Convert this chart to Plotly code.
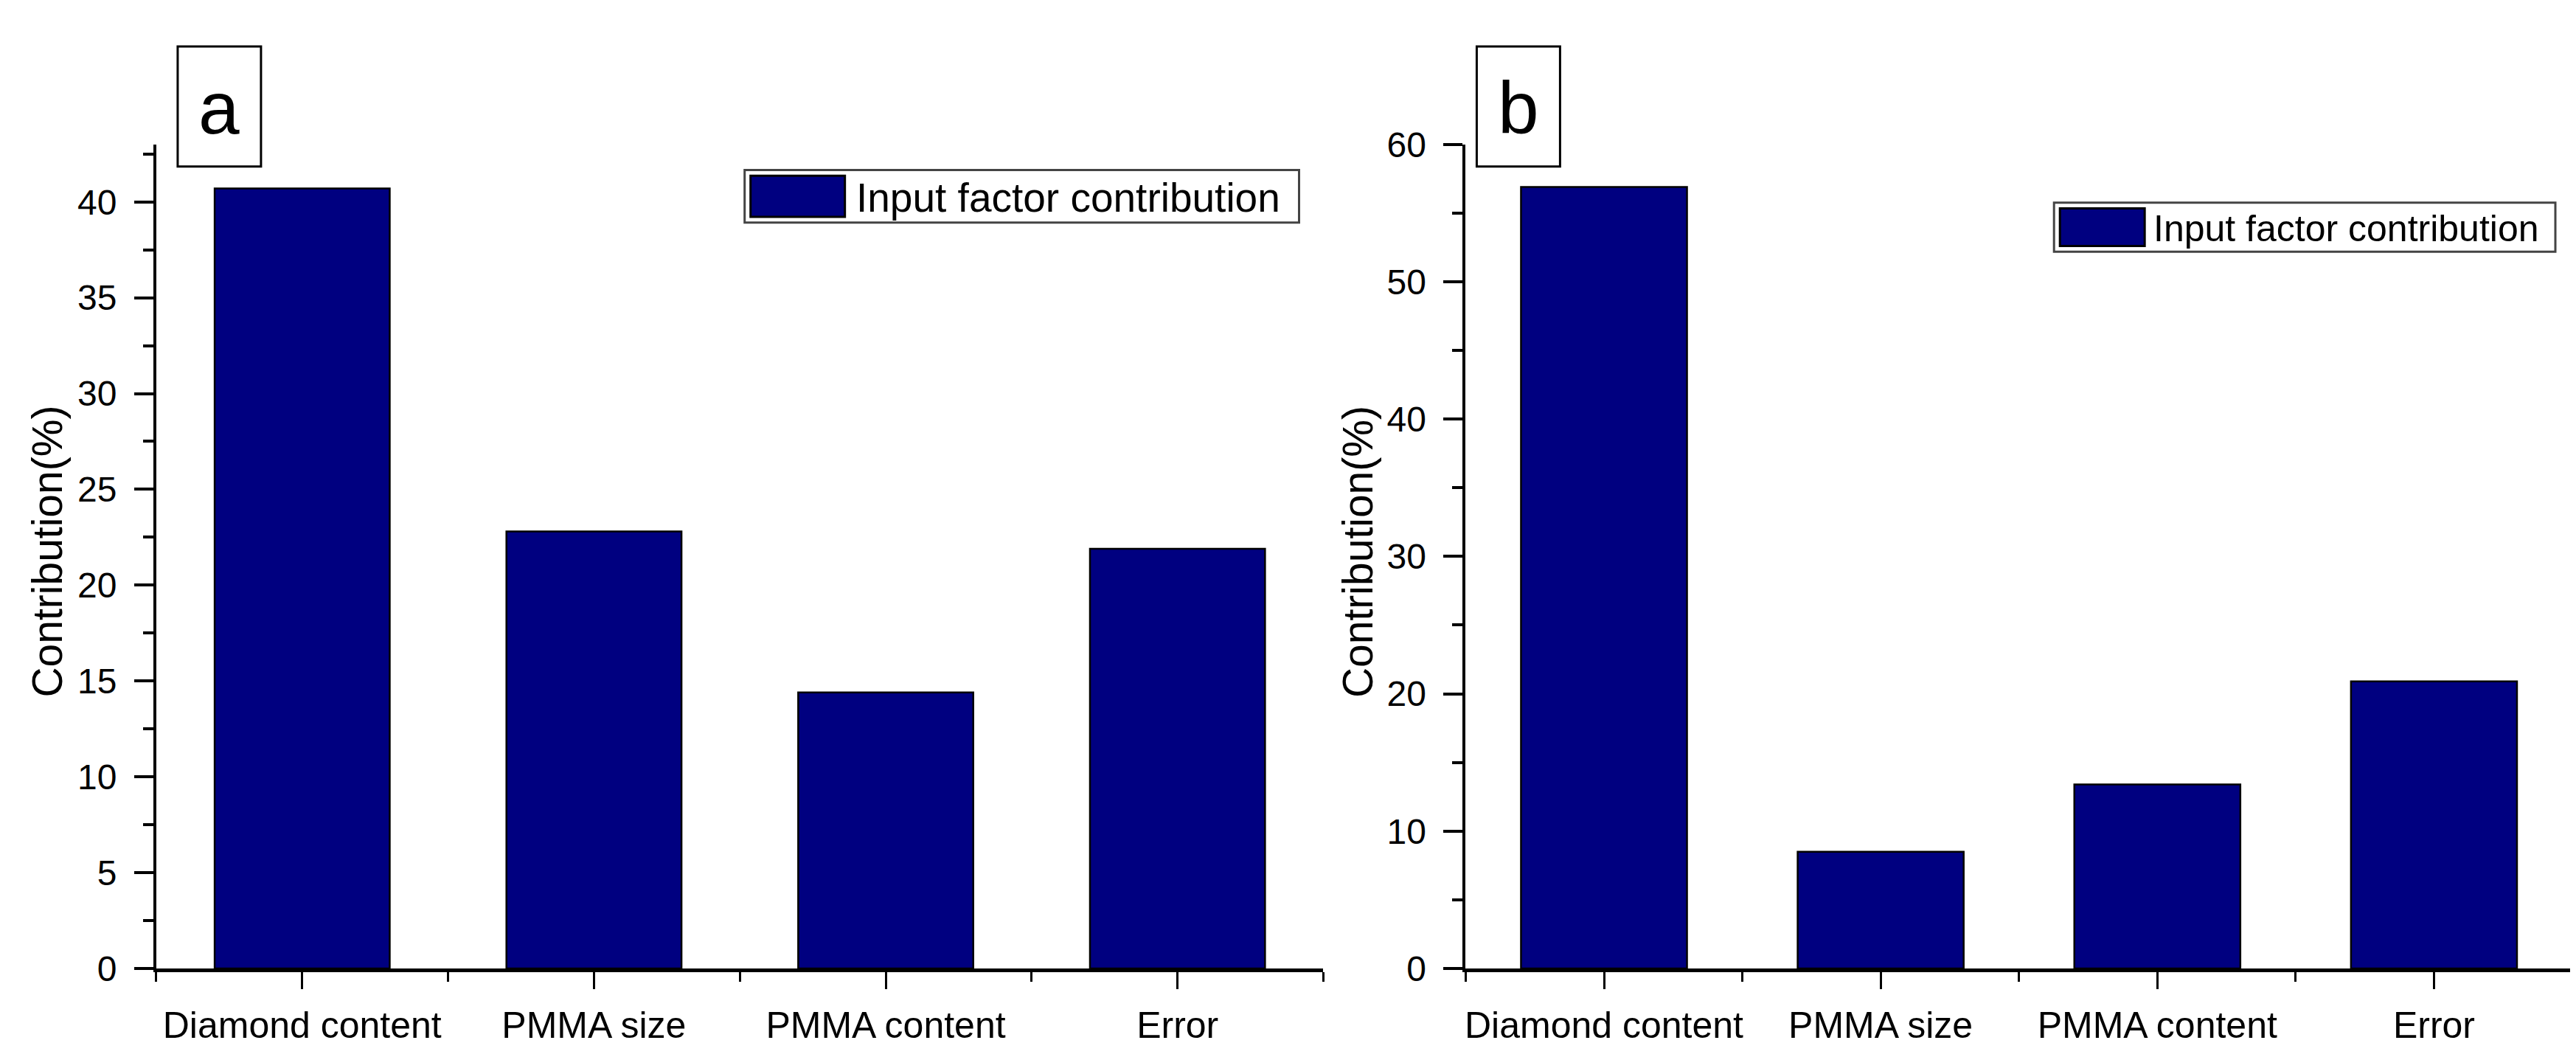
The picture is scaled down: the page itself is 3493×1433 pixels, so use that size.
import plotly.graph_objects as go

categories = ["Diamond content", "PMMA size", "PMMA content", "Error"]
values_a = [40.7, 22.8, 14.4, 21.9]
values_b = [56.9, 8.5, 13.4, 20.9]
series_name = "Input factor contribution"
y_title = "Contribution(%)"
panel_labels = ["a", "b"]

W, H = 3493, 1433
NAVY = "#000080"
FONT = "Liberation Sans, Arial, sans-serif"

def px(x):
    return x / W

def py(y):
    return 1 - y / H

fig = go.Figure()
pos = list(range(len(categories)))
for vals, xa, ya in [(values_a, "x", "y"), (values_b, "x2", "y2")]:
    fig.add_trace(go.Bar(x=pos, y=vals, width=0.6,
                         marker=dict(color=NAVY, line=dict(color="black", width=2.5)),
                         xaxis=xa, yaxis=ya, showlegend=False, name=series_name))

y0, y1 = py(1328), py(168)

def xaxis_cfg(dom, anchor):
    return dict(domain=dom, anchor=anchor, range=[-0.5, len(categories) - 0.5],
                tickmode="array", tickvals=pos, ticktext=categories,
                ticks="outside", ticklen=23, tickwidth=3, tickcolor="black",
                showline=True, linecolor="black", linewidth=5, showgrid=False, zeroline=False,
                minor=dict(ticks="outside", tickmode="linear", tick0=-0.5, dtick=1, ticklen=13,
                           tickwidth=3, tickcolor="black"),
                tickfont=dict(family=FONT, size=50, color="black"), ticklabelstandoff=6)

def yaxis_cfg(dom, anchor, rng, dtick):
    return dict(domain=dom, anchor=anchor, range=rng, dtick=dtick, tick0=0,
                ticks="outside", ticklen=26, tickwidth=4, tickcolor="black",
                showline=True, linecolor="black", linewidth=4, showgrid=False, zeroline=False,
                minor=dict(ticks="outside", dtick=dtick / 2, ticklen=14, tickwidth=4, tickcolor="black"),
                tickfont=dict(family=FONT, size=48, color="black"), ticklabelstandoff=14)

fig.update_layout(
    width=W, height=H, autosize=False,
    margin=dict(l=0, r=0, t=0, b=0),
    paper_bgcolor="white", plot_bgcolor="white",
    xaxis=xaxis_cfg([px(203), px(1786)], "y"),
    yaxis=yaxis_cfg([y0, y1], "x", [0, 43], 5),
    xaxis2=xaxis_cfg([px(1979), px(3480)], "y2"),
    yaxis2=yaxis_cfg([y0, y1], "x2", [0, 60], 10),
)

shapes = []
annotations = []

# y-axis titles
for xc in (55, 1832):
    annotations.append(dict(xref="paper", yref="paper", x=px(xc), y=py(741), text=y_title, textangle=-90,
                            showarrow=False, xanchor="center", yanchor="middle",
                            font=dict(family=FONT, size=57, color="black")))

# panel label boxes
for lbl, (x0b, x1b) in zip(panel_labels, [(232, 345), (1994, 2107)]):
    shapes.append(dict(type="rect", xref="paper", yref="paper", x0=px(x0b), x1=px(x1b), y0=py(199), y1=py(30),
                       line=dict(color="black", width=3), fillcolor="white"))
    annotations.append(dict(xref="paper", yref="paper", x=px((x0b + x1b) / 2), y=py(116), text=lbl, showarrow=False,
                            font=dict(family=FONT, size=100, color="black"), xanchor="center", yanchor="middle"))

# legends
for (bx0, bx1, by0, by1, sw1, tx, fs) in [(1001, 1753, 204, 278, 1137, 1150, 55),
                                           (2777, 3457, 250, 319, 2900, 2910, 50)]:
    shapes.append(dict(type="rect", xref="paper", yref="paper", x0=px(bx0), x1=px(bx1), y0=py(by1), y1=py(by0),
                       line=dict(color="#444444", width=3), fillcolor="white"))
    shapes.append(dict(type="rect", xref="paper", yref="paper", x0=px(bx0 + 8), x1=px(sw1),
                       y0=py(by1 - 8), y1=py(by0 + 8),
                       line=dict(color="black", width=3), fillcolor=NAVY))
    annotations.append(dict(xref="paper", yref="paper", x=px(tx), y=py((by0 + by1) / 2 + 2), text=series_name,
                            showarrow=False, xanchor="left", yanchor="middle",
                            font=dict(family=FONT, size=fs, color="black")))

fig.update_layout(shapes=shapes, annotations=annotations)
fig.write_html("out.html")
